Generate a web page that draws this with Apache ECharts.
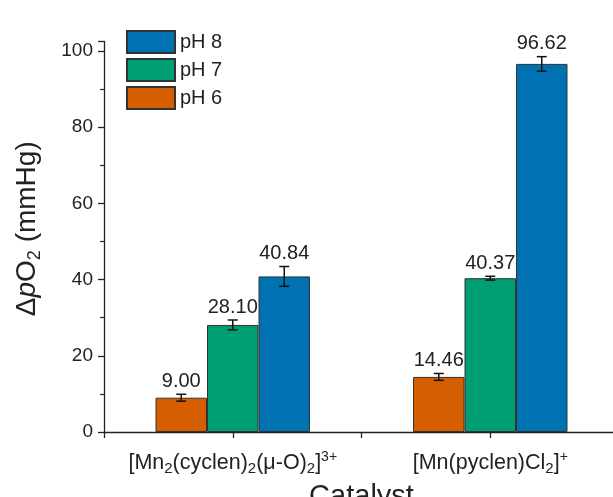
<!DOCTYPE html>
<html>
<head>
<meta charset="utf-8">
<script src="https://cdn.jsdelivr.net/npm/echarts@6/dist/echarts.min.js"></script>
<style>html,body{margin:0;padding:0;background:#fff;}#c{width:613px;height:497px;}</style>
</head>
<body>
<div id="c"></div>
<script>
var categories = ['[Mn{sub|2}(cyclen){sub|2}(μ-O){sub|2}]{sup|3+}', '[Mn(pyclen)Cl{sub|2}]{sup|+}'];
var seriesNames = ['pH 6', 'pH 7', 'pH 8'];
var ph6 = [9.00, 14.46];
var ph7 = [28.10, 40.37];
var ph8 = [40.84, 96.62];
var ph6Err = [0.9, 0.9];
var ph7Err = [1.3, 0.5];
var ph8Err = [2.6, 1.9];
var yTicks = [0, 20, 40, 60, 80, 100];
var colors = ['#D55E00', '#009E73', '#0072B2'];

var values = [ph6, ph7, ph8];
var errs = [ph6Err, ph7Err, ph8Err];
var errData = [];
for (var s = 0; s < 3; s++) {
  for (var c = 0; c < categories.length; c++) {
    errData.push([c, values[s][c], errs[s][c], s]);
  }
}

var chart = echarts.init(document.getElementById('c'), null, {renderer: 'canvas'});
var txt = '#222';
var barSeries = seriesNames.map(function (n, i) {
  return {
    name: n, type: 'bar', data: values[i], barWidth: '20%', barGap: '0%',
    itemStyle: {color: colors[i], borderColor: '#333', borderWidth: 1}
  };
});
var option = {
  animation: false,
  grid: {left: 104, right: -6, top: 41.5, bottom: 65, containLabel: false, outerBoundsMode: 'none'},
  legend: {
    data: ['pH 8', 'pH 7', 'pH 6'], orient: 'vertical', left: 121, top: 25,
    itemWidth: 48, itemHeight: 22, itemGap: 4, icon: 'rect',
    textStyle: {fontSize: 20, color: txt, fontFamily: 'Liberation Sans'}
  },
  xAxis: [{
    type: 'category', data: categories, boundaryGap: true,
    axisLine: {lineStyle: {color: '#222', width: 1.3}},
    axisTick: {show: false},
    axisLabel: {
      interval: 0, hideOverlap: false,
      fontSize: 21.5, color: txt, fontFamily: 'Liberation Sans', margin: 18, lineHeight: 26,
      formatter: function (v) { return v; },
      rich: {
        sub: {fontSize: 15, verticalAlign: 'bottom', color: txt, fontFamily: 'Liberation Sans'},
        sup: {fontSize: 14, verticalAlign: 'top', color: txt, fontFamily: 'Liberation Sans'}
      }
    },
    name: 'Catalyst', nameLocation: 'middle', nameGap: 50,
    nameTextStyle: {fontSize: 29, color: txt, fontFamily: 'Liberation Sans', verticalAlign: 'top'}
  }, {
    type: 'value', min: 0, max: 2, interval: 0.5, position: 'bottom',
    axisLine: {show: false}, axisLabel: {show: false}, splitLine: {show: false},
    axisTick: {show: true, length: 6, lineStyle: {color: '#222', width: 1.3}}
  }],
  yAxis: {
    type: 'value', min: 0, max: 102.5, interval: 20,
    axisLine: {show: true, lineStyle: {color: '#222', width: 1.3}},
    axisTick: {show: true, length: 6, lineStyle: {color: '#222', width: 1.3}},
    minorTick: {show: true, splitNumber: 2, length: 4, lineStyle: {color: '#222', width: 1.2}},
    splitLine: {show: false},
    axisLabel: {
      fontSize: 19, color: txt, fontFamily: 'Liberation Sans', margin: 11, showMaxLabel: false,
      formatter: function (v) { return yTicks.indexOf(v) >= 0 ? String(v) : ''; }
    },
    name: 'Δ{i|p}O{sub|2} (mmHg)', nameLocation: 'middle', nameGap: 60, nameRotate: 90,
    nameTextStyle: {
      fontSize: 28, color: txt, fontFamily: 'Liberation Sans', lineHeight: 34, padding: [0, 0, 0, 16],
      rich: {
        i: {fontSize: 28, fontStyle: 'italic', color: txt, fontFamily: 'Liberation Sans'},
        sub: {fontSize: 18, verticalAlign: 'bottom', color: txt, fontFamily: 'Liberation Sans'}
      }
    }
  },
  series: barSeries.concat([{
    type: 'custom', name: 'err', data: errData, z: 10,
    renderItem: function (params, api) {
      var ci = api.value(0), v = api.value(1), e = api.value(2), si = api.value(3);
      var band = api.size([1, 0])[0];
      var center = api.coord([ci, v]);
      var x = center[0] + (si - 1) * band * 0.2;
      var top = api.coord([ci, v + e])[1];
      var bot = api.coord([ci, v - e])[1];
      var hw = 5;
      var st = {stroke: '#111', lineWidth: 1.5};
      return {
        type: 'group',
        children: [
          {type: 'line', shape: {x1: x, y1: top, x2: x, y2: bot}, style: st},
          {type: 'line', shape: {x1: x - hw, y1: top, x2: x + hw, y2: top}, style: st},
          {type: 'line', shape: {x1: x - hw, y1: bot, x2: x + hw, y2: bot}, style: st},
          {type: 'text', x: x, y: top - 3, style: {
            text: v.toFixed(2), fill: txt, fontSize: 20, fontFamily: 'Liberation Sans',
            align: 'center', verticalAlign: 'bottom'
          }}
        ]
      };
    }
  }])
};
chart.setOption(option);
</script>
</body>
</html>
